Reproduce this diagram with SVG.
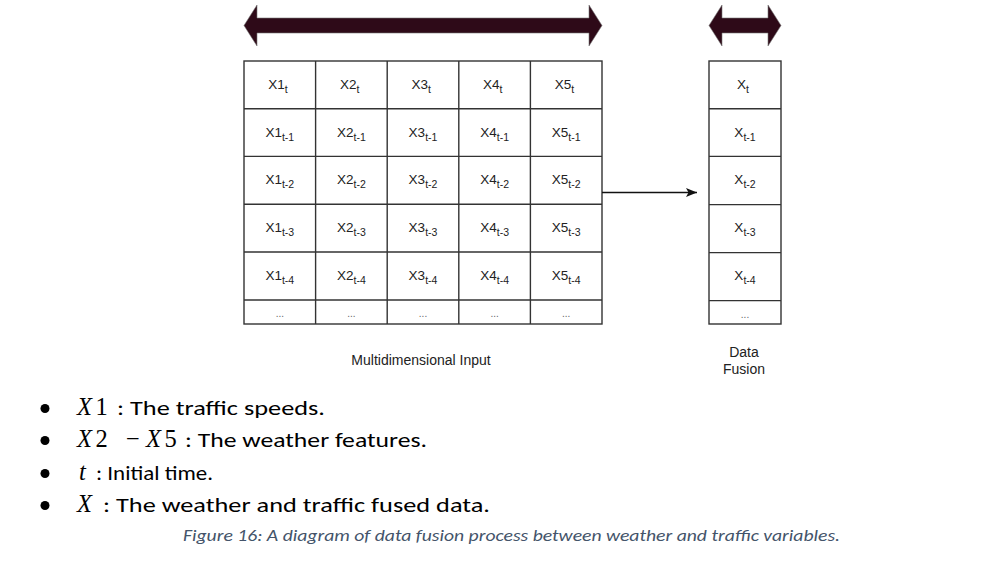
<svg xmlns="http://www.w3.org/2000/svg" width="984" height="570" viewBox="0 0 984 570">
<style>
.cell{fill:#fff;stroke:#333;stroke-width:1.4}
.ct{font-family:"Liberation Sans",Arial,sans-serif;font-size:13.5px;fill:#222;text-anchor:middle}
.sub{font-size:10.5px}
.dots{font-family:"Liberation Sans",Arial,sans-serif;font-size:10px;fill:#666;text-anchor:middle}
.lbl{font-family:"Liberation Sans",Arial,sans-serif;font-size:14px;fill:#222;text-anchor:middle}
.big{fill:#2e0a18;stroke:#777;stroke-width:0.6}
.bt{font-family:"Carlito","Liberation Sans",sans-serif;font-size:21px;fill:#000}
.m{font-family:"Liberation Serif","DejaVu Serif",serif;font-size:24.5px;fill:#000}
.mi{font-style:italic}
.cap{font-family:"Carlito","Liberation Sans",sans-serif;font-size:16.5px;font-style:italic;fill:#44546a}
</style>
<defs>
<marker id="ah" markerWidth="11" markerHeight="9" refX="11" refY="4.5" orient="auto" markerUnits="userSpaceOnUse">
<path d="M0,0 L11,4.5 L0,9 L2.5,4.5 Z" fill="#111"/>
</marker>
</defs>
<rect width="984" height="570" fill="#fff"/>

<g id="arrow-input-span">
<polygon class="big" points="244,25.5 257,5 257,18 589,18 589,5 602,25.5 589,46 589,33 257,33 257,46"/>
</g>
<g id="arrow-fusion-span">
<polygon class="big" points="709,25.5 722,5 722,18 768,18 768,5 781,25.5 768,46 768,33 722,33 722,46"/>
</g>

<g id="multidimensional-input">
<rect class="cell" x="244" y="61" width="358" height="263"/>
<g stroke="#333" stroke-width="1.4">
<line x1="315.6" y1="61" x2="315.6" y2="324"/>
<line x1="387.2" y1="61" x2="387.2" y2="324"/>
<line x1="458.8" y1="61" x2="458.8" y2="324"/>
<line x1="530.4" y1="61" x2="530.4" y2="324"/>
<line x1="244" y1="108.7" x2="602" y2="108.7"/>
<line x1="244" y1="156.4" x2="602" y2="156.4"/>
<line x1="244" y1="204.2" x2="602" y2="204.2"/>
<line x1="244" y1="252" x2="602" y2="252"/>
<line x1="244" y1="300" x2="602" y2="300"/>
</g>
<g class="ct">
<text x="278" y="89">X1<tspan class="sub" dy="4">t</tspan></text>
<text x="349.6" y="89">X2<tspan class="sub" dy="4">t</tspan></text>
<text x="421.2" y="89">X3<tspan class="sub" dy="4">t</tspan></text>
<text x="492.8" y="89">X4<tspan class="sub" dy="4">t</tspan></text>
<text x="564.4" y="89">X5<tspan class="sub" dy="4">t</tspan></text>

<text x="279.8" y="136.5">X1<tspan class="sub" dy="4">t-1</tspan></text>
<text x="351.4" y="136.5">X2<tspan class="sub" dy="4">t-1</tspan></text>
<text x="423" y="136.5">X3<tspan class="sub" dy="4">t-1</tspan></text>
<text x="494.6" y="136.5">X4<tspan class="sub" dy="4">t-1</tspan></text>
<text x="566.2" y="136.5">X5<tspan class="sub" dy="4">t-1</tspan></text>

<text x="279.8" y="184.2">X1<tspan class="sub" dy="4">t-2</tspan></text>
<text x="351.4" y="184.2">X2<tspan class="sub" dy="4">t-2</tspan></text>
<text x="423" y="184.2">X3<tspan class="sub" dy="4">t-2</tspan></text>
<text x="494.6" y="184.2">X4<tspan class="sub" dy="4">t-2</tspan></text>
<text x="566.2" y="184.2">X5<tspan class="sub" dy="4">t-2</tspan></text>

<text x="279.8" y="232">X1<tspan class="sub" dy="4">t-3</tspan></text>
<text x="351.4" y="232">X2<tspan class="sub" dy="4">t-3</tspan></text>
<text x="423" y="232">X3<tspan class="sub" dy="4">t-3</tspan></text>
<text x="494.6" y="232">X4<tspan class="sub" dy="4">t-3</tspan></text>
<text x="566.2" y="232">X5<tspan class="sub" dy="4">t-3</tspan></text>

<text x="279.8" y="280">X1<tspan class="sub" dy="4">t-4</tspan></text>
<text x="351.4" y="280">X2<tspan class="sub" dy="4">t-4</tspan></text>
<text x="423" y="280">X3<tspan class="sub" dy="4">t-4</tspan></text>
<text x="494.6" y="280">X4<tspan class="sub" dy="4">t-4</tspan></text>
<text x="566.2" y="280">X5<tspan class="sub" dy="4">t-4</tspan></text>
</g>
<g class="dots">
<text x="279.8" y="317">...</text>
<text x="351.4" y="317">...</text>
<text x="423" y="317">...</text>
<text x="494.6" y="317">...</text>
<text x="566.2" y="317">...</text>
</g>
<text class="lbl" x="421" y="365">Multidimensional Input</text>
</g>

<g id="data-fusion">
<rect class="cell" x="709" y="61" width="72" height="263"/>
<g stroke="#333" stroke-width="1.4">
<line x1="709" y1="108.7" x2="781" y2="108.7"/>
<line x1="709" y1="156.4" x2="781" y2="156.4"/>
<line x1="709" y1="204.6" x2="781" y2="204.6"/>
<line x1="709" y1="252.6" x2="781" y2="252.6"/>
<line x1="709" y1="300.6" x2="781" y2="300.6"/>
</g>
<g class="ct">
<text x="743" y="89">X<tspan class="sub" dy="4">t</tspan></text>
<text x="745" y="136.5">X<tspan class="sub" dy="4">t-1</tspan></text>
<text x="745" y="184.2">X<tspan class="sub" dy="4">t-2</tspan></text>
<text x="745" y="232.3">X<tspan class="sub" dy="4">t-3</tspan></text>
<text x="745" y="280.3">X<tspan class="sub" dy="4">t-4</tspan></text>
</g>
<text class="dots" x="745" y="317.5">...</text>
<text class="lbl" x="744" y="357">Data</text>
<text class="lbl" x="744" y="374">Fusion</text>
</g>

<g id="connectors">
<line x1="602" y1="192.5" x2="697" y2="192.5" stroke="#111" stroke-width="1.3" marker-end="url(#ah)"/>
</g>

<g id="legend">
<circle cx="45" cy="408.5" r="4.5" fill="#000"/>
<circle cx="45" cy="440.5" r="4.5" fill="#000"/>
<circle cx="45" cy="473.5" r="4.5" fill="#000"/>
<circle cx="45" cy="505.5" r="4.5" fill="#000"/>

<text class="m" y="415"><tspan class="mi" x="77">X</tspan><tspan x="95.5">1</tspan></text>
<text class="bt" x="117" y="415" textLength="208" lengthAdjust="spacingAndGlyphs">: The traffic speeds.</text>

<text class="m" y="446.7"><tspan class="mi" x="77">X</tspan><tspan x="95.5">2</tspan><tspan x="126">−</tspan><tspan class="mi" x="146">X</tspan><tspan x="164.5">5</tspan></text>
<text class="bt" x="185" y="446.7" textLength="242" lengthAdjust="spacingAndGlyphs">: The weather features.</text>

<text class="m mi" x="79" y="480">t</text>
<text class="bt" x="96" y="480" textLength="117" lengthAdjust="spacingAndGlyphs">: Initial time.</text>

<text class="m mi" x="77" y="511.7">X</text>
<text class="bt" x="103" y="511.7" textLength="387" lengthAdjust="spacingAndGlyphs">: The weather and traffic fused data.</text>

<text class="cap" x="183" y="541" textLength="657" lengthAdjust="spacingAndGlyphs">Figure 16: A diagram of data fusion process between weather and traffic variables.</text>
</g>
</svg>
